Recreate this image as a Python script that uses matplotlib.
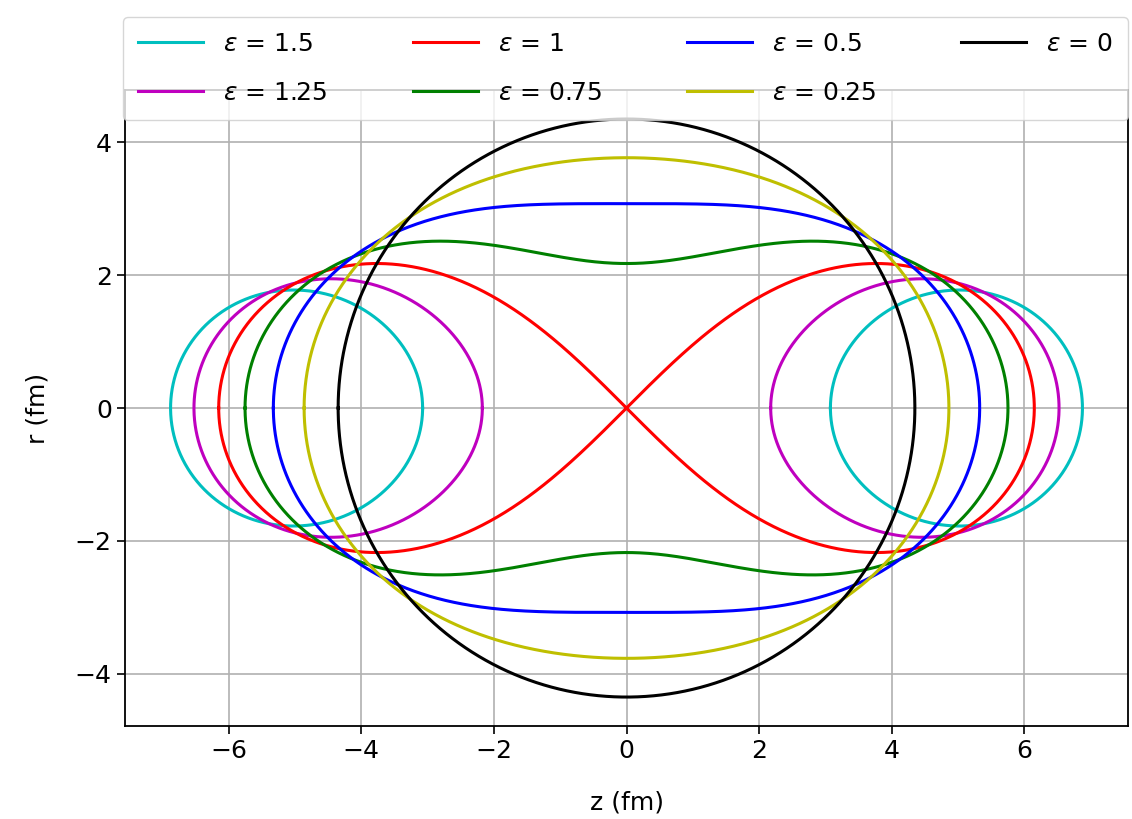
import numpy as np
import matplotlib
matplotlib.use("Agg")
import matplotlib.pyplot as plt

# Cassini-oval nuclear shapes: deformation parameters and radius (fm)
eps_values = [1.5, 1.25, 1.0, 0.75, 0.5, 0.25, 0.0]
eps_labels = ["1.5", "1.25", "1", "0.75", "0.5", "0.25", "0"]
colors = ["c", "m", "r", "g", "b", "y", "k"]
R0 = 4.35

plt.rcParams['font.family'] = ['DejaVu Sans']

fig = plt.figure(figsize=(11.32, 8.19), dpi=100)
ax = fig.add_axes([0.1104, 0.1136, 0.8861, 0.7764])


def oval(zlo, zhi, c2, a4, n=801):
    t = np.linspace(0, np.pi, n)
    z = zlo + (zhi - zlo) * (1 - np.cos(t)) / 2
    r2 = np.sqrt(a4 + 4 * c2 * z**2) - z**2 - c2
    r = np.sqrt(np.clip(r2, 0, None))
    zz = np.concatenate([z, z[::-1]])
    rr = np.concatenate([r, -r[::-1]])
    return zz, rr


for eps, lab, col in zip(eps_values, eps_labels, colors):
    c2 = eps * R0**2
    a4 = R0**4
    zmax = R0 * np.sqrt(1 + eps)
    label = r"$\varepsilon$ = " + lab
    if eps <= 1:
        z, r = oval(-zmax, zmax, c2, a4)
        ax.plot(z, r, color=col, lw=2.2, label=label)
    else:
        zmin = R0 * np.sqrt(eps - 1)
        z, r = oval(zmin, zmax, c2, a4)
        ax.plot(-z, r, color=col, lw=2.2, label=label)
        ax.plot(z, r, color=col, lw=2.2)

ax.grid(True, color='#b0b0b0', lw=1.2)
ax.tick_params(labelsize=18, length=6, width=1.2)
for s in ax.spines.values():
    s.set_linewidth(1.3)
ax.set_xlabel("z (fm)", fontsize=18, labelpad=20)
ax.set_ylabel("r (fm)", fontsize=18, labelpad=18)
ax.set_xticks([-6, -4, -2, 0, 2, 4, 6])
ax.set_yticks([-4, -2, 0, 2, 4])

leg = ax.legend(loc='lower left', bbox_to_anchor=(0.1087, 0.8535, 0.8878, 0.13),
                bbox_transform=fig.transFigure, mode='expand', ncol=4,
                fontsize=18, handlelength=2.6, labelspacing=1.0, borderpad=0.6,
                borderaxespad=0, framealpha=0.8)

fig.savefig("out.png", dpi=100)
